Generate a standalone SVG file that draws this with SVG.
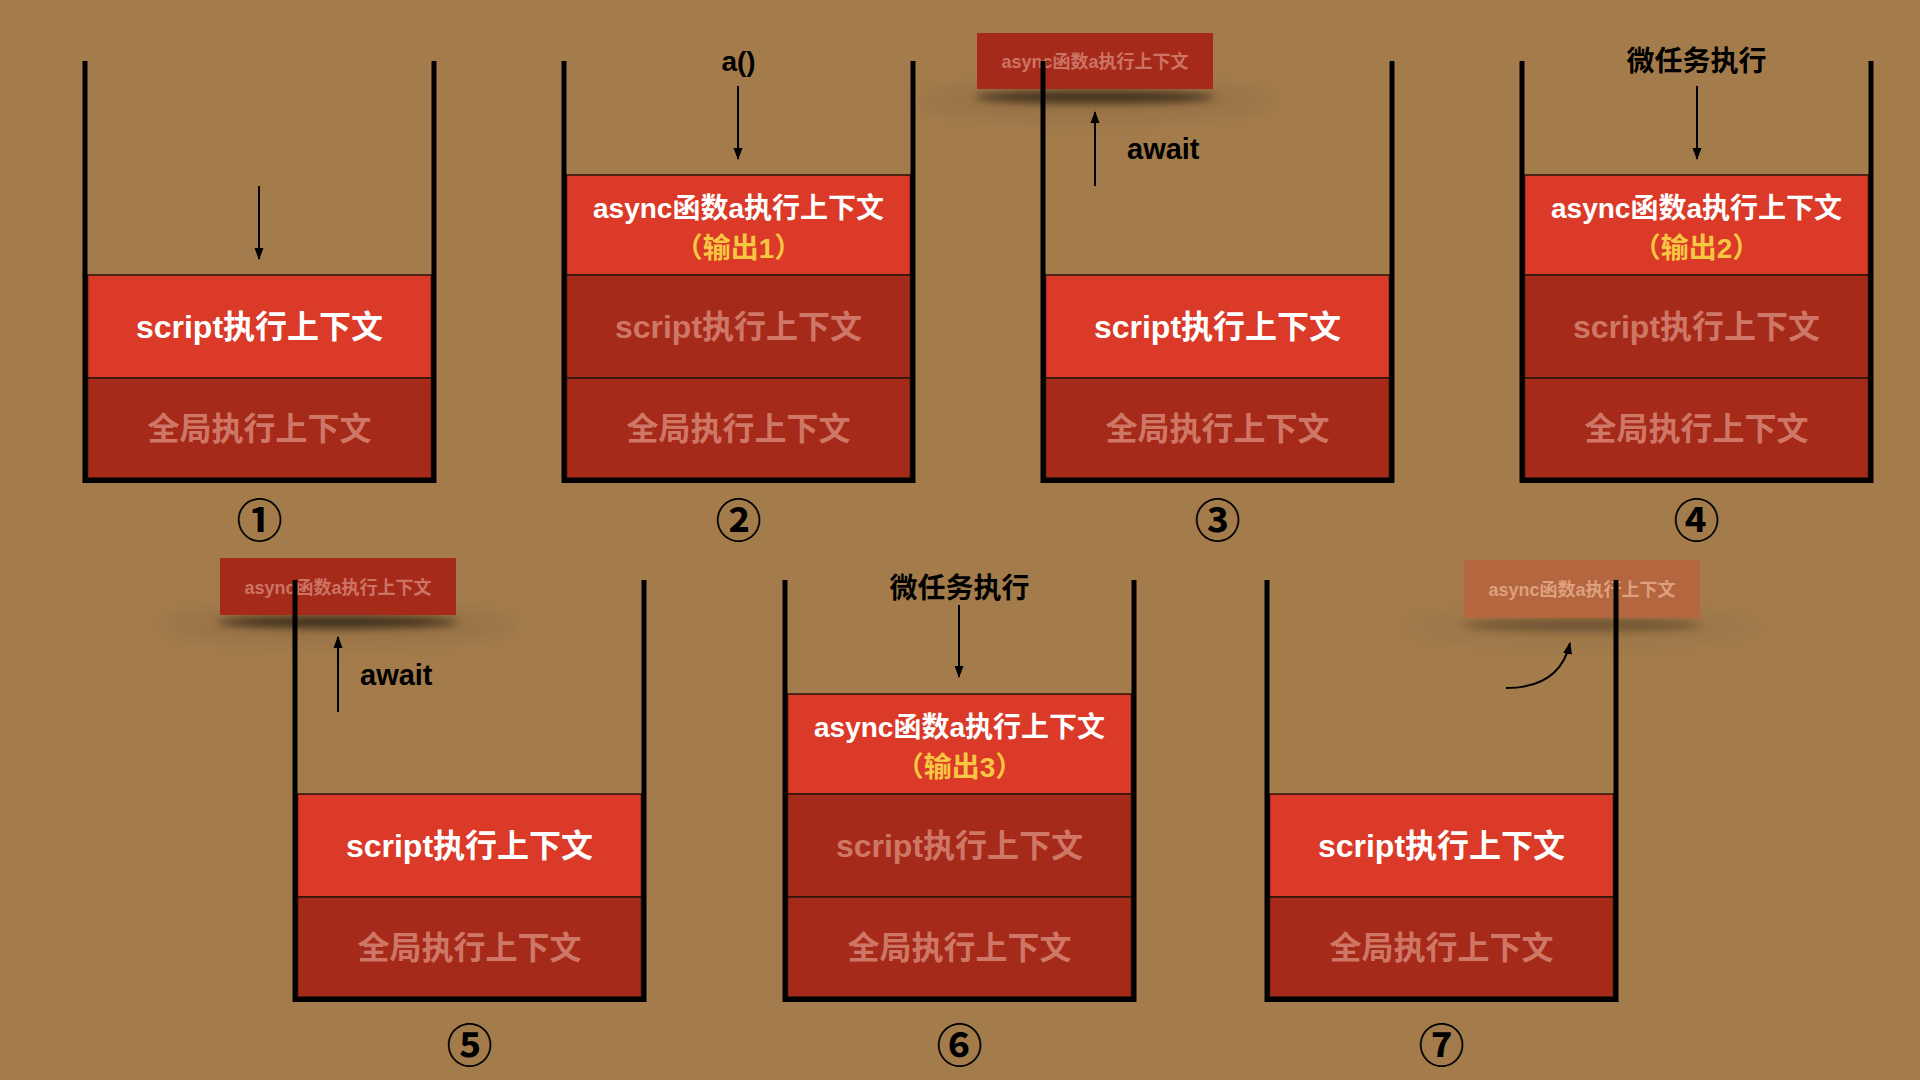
<svg xmlns="http://www.w3.org/2000/svg" width="1920" height="1080" viewBox="0 0 1920 1080">
<style>
.bg{fill:#a47c4c}
.on{fill:#da3a27;stroke:#2a140a;stroke-width:1.5}
.off{fill:#a62a19;stroke:#2a140a;stroke-width:1.5}
.wall{fill:none;stroke:#000;stroke-width:5;stroke-linejoin:miter}
text{font-family:"Liberation Sans","Noto Sans CJK SC",sans-serif;font-weight:bold;text-anchor:middle;dominant-baseline:central}
.lbl{font-size:32px;fill:#fff}
.dim{fill:#cf7767}
.alb{font-size:28px;fill:#fff}
.out{font-size:28px;fill:#f7c744}
.cap{font-size:28px;fill:#000}
.await{font-size:29px;fill:#000;text-anchor:start;dominant-baseline:alphabetic}
.num{font-family:"Noto Sans CJK SC",sans-serif;font-size:46px;fill:#000}
.pop{fill:#a62a19}
.poptx{font-size:18px;fill:#cc7464}
.pop2{fill:#b4663f}
.poptx2{font-size:18px;fill:#dea07e}
.arr{fill:none;stroke:#000;stroke-width:2}
</style>
<defs>
<marker id="ah" markerUnits="userSpaceOnUse" markerWidth="12" markerHeight="12" viewBox="0 0 12 12" refX="11" refY="6" orient="auto">
<path d="M0,1.5 L12,6 L0,10.5 Z" fill="#000"/>
</marker>
<filter id="blur1" x="-50%" y="-200%" width="200%" height="500%"><feGaussianBlur stdDeviation="4"/></filter>
<filter id="blur2" x="-50%" y="-200%" width="200%" height="500%"><feGaussianBlur stdDeviation="10"/></filter>
</defs>
<rect class="bg" x="0" y="0" width="1920" height="1080"/>

<g id="stack1" transform="translate(85,61)">
<rect class="on" x="2.5" y="214" width="344" height="103"/>
<text class="lbl" x="174.5" y="266">script执行上下文</text>
<rect class="off" x="2.5" y="317" width="344" height="100"/>
<text class="lbl dim" x="174.5" y="368">全局执行上下文</text>
<path class="wall" d="M0,0 V419.5 H349 V0"/>
<text class="num" x="174.5" y="456">①</text>
</g>

<g id="stack2" transform="translate(564,61)">
<text class="cap" x="174.5" y="0">a()</text>
<rect class="on" x="2.5" y="114" width="344" height="100"/>
<text class="alb" x="174.5" y="147">async函数a执行上下文</text>
<text class="out" x="174.5" y="187">（输出1）</text>
<rect class="off" x="2.5" y="214" width="344" height="103"/>
<text class="lbl dim" x="174.5" y="266">script执行上下文</text>
<rect class="off" x="2.5" y="317" width="344" height="100"/>
<text class="lbl dim" x="174.5" y="368">全局执行上下文</text>
<path class="wall" d="M0,0 V419.5 H349 V0"/>
<text class="num" x="174.5" y="456">②</text>
</g>

<g id="stack3" transform="translate(1043,61)">
<ellipse cx="52" cy="40" rx="180" ry="20" fill="#000" opacity="0.07" filter="url(#blur2)"/>
<ellipse cx="52" cy="36" rx="120" ry="6" fill="#000" opacity="0.6" filter="url(#blur1)"/>
<rect class="pop" x="-66" y="-28" width="236" height="56"/>
<text class="poptx" x="52" y="1">async函数a执行上下文</text>
<text class="await" x="84" y="98">await</text>
<rect class="on" x="2.5" y="214" width="344" height="103"/>
<text class="lbl" x="174.5" y="266">script执行上下文</text>
<rect class="off" x="2.5" y="317" width="344" height="100"/>
<text class="lbl dim" x="174.5" y="368">全局执行上下文</text>
<path class="wall" d="M0,0 V419.5 H349 V0"/>
<text class="num" x="174.5" y="456">③</text>
</g>

<g id="stack4" transform="translate(1522,61)">
<text class="cap" x="174.5" y="0">微任务执行</text>
<rect class="on" x="2.5" y="114" width="344" height="100"/>
<text class="alb" x="174.5" y="147">async函数a执行上下文</text>
<text class="out" x="174.5" y="187">（输出2）</text>
<rect class="off" x="2.5" y="214" width="344" height="103"/>
<text class="lbl dim" x="174.5" y="266">script执行上下文</text>
<rect class="off" x="2.5" y="317" width="344" height="100"/>
<text class="lbl dim" x="174.5" y="368">全局执行上下文</text>
<path class="wall" d="M0,0 V419.5 H349 V0"/>
<text class="num" x="174.5" y="456">④</text>
</g>

<g id="stack5" transform="translate(295,580)">
<ellipse cx="43" cy="45" rx="180" ry="20" fill="#000" opacity="0.07" filter="url(#blur2)"/>
<ellipse cx="43" cy="42" rx="120" ry="6" fill="#000" opacity="0.6" filter="url(#blur1)"/>
<rect class="pop" x="-75" y="-22" width="236" height="57"/>
<text class="poptx" x="43" y="8">async函数a执行上下文</text>
<text class="await" x="65" y="105">await</text>
<rect class="on" x="2.5" y="214" width="344" height="103"/>
<text class="lbl" x="174.5" y="266">script执行上下文</text>
<rect class="off" x="2.5" y="317" width="344" height="100"/>
<text class="lbl dim" x="174.5" y="368">全局执行上下文</text>
<path class="wall" d="M0,0 V419.5 H349 V0"/>
<text class="num" x="174.5" y="462">⑤</text>
</g>

<g id="stack6" transform="translate(785,580)">
<text class="cap" x="174.5" y="8">微任务执行</text>
<rect class="on" x="2.5" y="114" width="344" height="100"/>
<text class="alb" x="174.5" y="147">async函数a执行上下文</text>
<text class="out" x="174.5" y="187">（输出3）</text>
<rect class="off" x="2.5" y="214" width="344" height="103"/>
<text class="lbl dim" x="174.5" y="266">script执行上下文</text>
<rect class="off" x="2.5" y="317" width="344" height="100"/>
<text class="lbl dim" x="174.5" y="368">全局执行上下文</text>
<path class="wall" d="M0,0 V419.5 H349 V0"/>
<text class="num" x="174.5" y="462">⑥</text>
</g>

<g id="stack7" transform="translate(1267,580)">
<ellipse cx="315" cy="47" rx="180" ry="20" fill="#000" opacity="0.04" filter="url(#blur2)"/>
<ellipse cx="315" cy="45" rx="120" ry="6" fill="#000" opacity="0.3" filter="url(#blur1)"/>
<rect class="pop2" x="197" y="-20" width="236" height="58"/>
<text class="poptx2" x="315" y="10">async函数a执行上下文</text>
<rect class="on" x="2.5" y="214" width="344" height="103"/>
<text class="lbl" x="174.5" y="266">script执行上下文</text>
<rect class="off" x="2.5" y="317" width="344" height="100"/>
<text class="lbl dim" x="174.5" y="368">全局执行上下文</text>
<path class="wall" d="M0,0 V419.5 H349 V0"/>
<text class="num" x="174.5" y="462">⑦</text>
</g>

<g id="connectors">
<path class="arr" d="M259,186 V259" marker-end="url(#ah)"/>
<path class="arr" d="M738,86 V159" marker-end="url(#ah)"/>
<path class="arr" d="M1095,186 V112" marker-end="url(#ah)"/>
<path class="arr" d="M1697,86 V159" marker-end="url(#ah)"/>
<path class="arr" d="M338,712 V637" marker-end="url(#ah)"/>
<path class="arr" d="M959,605 V677" marker-end="url(#ah)"/>
<path class="arr" d="M1506,688 C1540,688 1563,674 1570,643" marker-end="url(#ah)"/>
</g>
</svg>
